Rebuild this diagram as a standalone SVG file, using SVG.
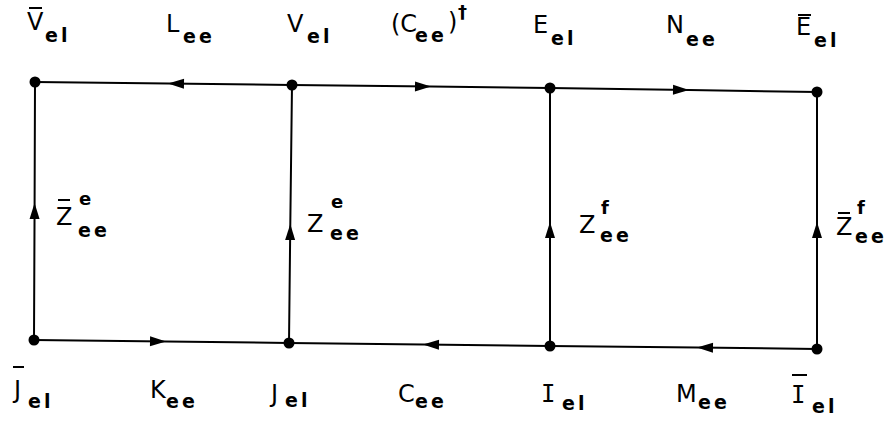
<svg xmlns="http://www.w3.org/2000/svg" width="890" height="423" viewBox="0 0 890 423">
<style>
text{font-family:"DejaVu Sans","Liberation Sans",sans-serif;fill:#000}
.m{font-size:24px}
.s{font-size:19px;letter-spacing:3px;font-weight:bold}
.p{font-size:18px;font-weight:bold}
.r{font-family:"DejaVu Sans Mono","Liberation Mono",monospace;font-size:24px}
.bar{stroke:#000;stroke-width:2}
.edge{fill:none;stroke:#000;stroke-width:2}
.dot{fill:#000}
</style>
<defs>
<marker id="ah" viewBox="-17 -6 18 12" refX="0" refY="0" markerWidth="18" markerHeight="12" markerUnits="userSpaceOnUse" orient="auto">
<path d="M0,0 L-16,-5 L-16,5 Z" fill="#000"/>
</marker>
</defs>
<g id="connectors">
<path class="edge" marker-mid="url(#ah)" d="M292,85 L168,83.5 L35,82"/>
<path class="edge" marker-mid="url(#ah)" d="M292,85 L431,86.6 L550,88"/>
<path class="edge" marker-mid="url(#ah)" d="M550,88 L689,90 L817,92"/>
<path class="edge" marker-mid="url(#ah)" d="M34,340 L166,341.5 L289,343"/>
<path class="edge" marker-mid="url(#ah)" d="M550,346 L423,344.5 L289,343"/>
<path class="edge" marker-mid="url(#ah)" d="M817,349 L697,347.5 L550,346"/>
<path class="edge" marker-mid="url(#ah)" d="M34,340 L34.6,203 L35,82"/>
<path class="edge" marker-mid="url(#ah)" d="M289,343 L290.3,224 L292,85"/>
<path class="edge" marker-mid="url(#ah)" d="M550,346 L550,222 L550,88"/>
<path class="edge" marker-mid="url(#ah)" d="M817,349 L817,222 L817,92"/>
</g>
<g id="edge-labels">
<g id="lbl-L"><text class="m" x="166" y="32">L</text><text class="s" x="183" y="43">ee</text></g>
<g id="lbl-Ct"><text class="m" x="391" y="32">(C</text><text class="s" x="415" y="42">ee</text><text class="m" x="448" y="30">)</text><text class="p" x="458" y="18">†</text></g>
<g id="lbl-N"><text class="m" x="666" y="33">N</text><text class="s" x="686" y="46">ee</text></g>
<g id="lbl-K"><text class="m" x="150" y="398">K</text><text class="s" x="166" y="408">ee</text></g>
<g id="lbl-C"><text class="m" x="398" y="402">C</text><text class="s" x="415" y="408">ee</text></g>
<g id="lbl-M"><text class="m" x="676" y="402">M</text><text class="s" x="698" y="409">ee</text></g>
<g id="lbl-Zbe"><line class="bar" x1="58" y1="200" x2="70" y2="200"/><text class="m" x="56" y="225">Z</text><text class="p" x="79" y="205">e</text><text class="s" x="78" y="237">ee</text></g>
<g id="lbl-Ze"><text class="m" x="307" y="232">Z</text><text class="p" x="331" y="208">e</text><text class="s" x="330" y="240">ee</text></g>
<g id="lbl-Zf"><text class="m" x="579" y="233">Z</text><text class="p" x="601" y="214">f</text><text class="s" x="600" y="242">ee</text></g>
<g id="lbl-Zbf"><line class="bar" x1="838" y1="213" x2="850" y2="213"/><text class="m" x="836" y="235">Z</text><text class="p" x="857" y="214">f</text><text class="s" x="855" y="243">ee</text></g>
</g>
<g id="node-Vbar"><circle class="dot" cx="35" cy="82" r="5.5"/><line class="bar" x1="29" y1="8" x2="42" y2="8"/><text class="m" x="27" y="30">V</text><text class="s" x="45" y="42">el</text></g>
<g id="node-V"><circle class="dot" cx="292" cy="85" r="5.5"/><text class="m" x="287" y="32">V</text><text class="s" x="307" y="43">el</text></g>
<g id="node-E"><circle class="dot" cx="550" cy="88" r="5.5"/><text class="m" x="533" y="33">E</text><text class="s" x="551" y="45">el</text></g>
<g id="node-Ebar"><circle class="dot" cx="817" cy="92" r="5.5"/><line class="bar" x1="798" y1="15" x2="811" y2="15"/><text class="m" x="796" y="35">E</text><text class="s" x="814" y="47">el</text></g>
<g id="node-Jbar"><circle class="dot" cx="34" cy="340" r="5.5"/><line class="bar" x1="13" y1="367" x2="24" y2="367"/><text class="m" x="14" y="398">J</text><text class="s" x="28" y="408">el</text></g>
<g id="node-J"><circle class="dot" cx="289" cy="343" r="5.5"/><text class="m" x="271" y="402">J</text><text class="s" x="285" y="407">el</text></g>
<g id="node-I"><circle class="dot" cx="550" cy="346" r="5.5"/><text class="r" x="541" y="402">I</text><text class="s" x="562" y="410">el</text></g>
<g id="node-Ibar"><circle class="dot" cx="817" cy="349" r="5.5"/><line class="bar" x1="792" y1="375" x2="807" y2="375"/><text class="r" x="791" y="403">I</text><text class="s" x="812" y="413">el</text></g>
</svg>
